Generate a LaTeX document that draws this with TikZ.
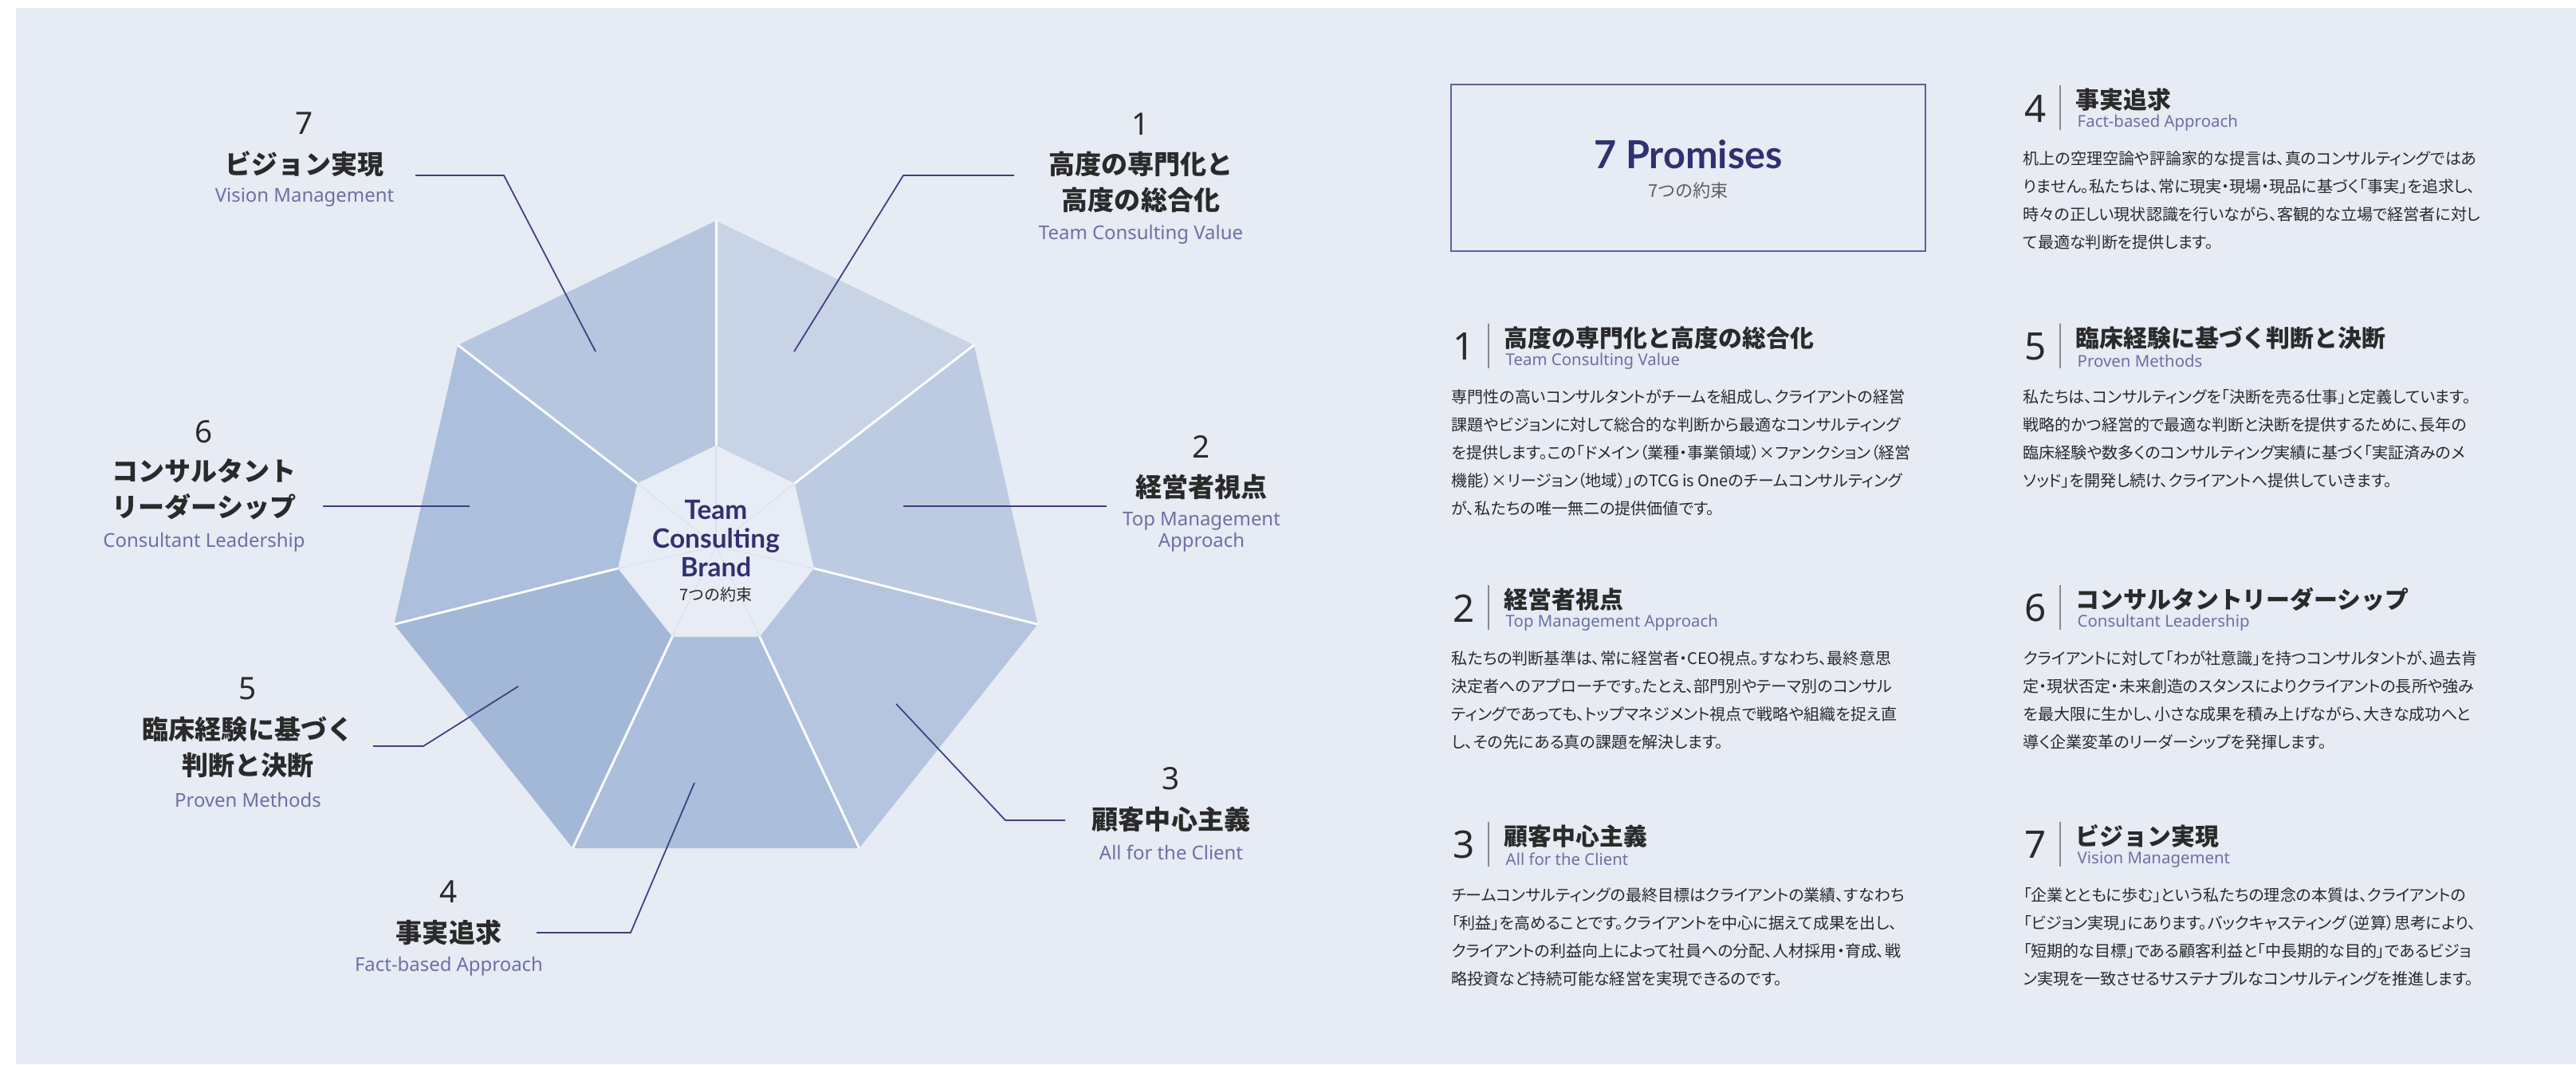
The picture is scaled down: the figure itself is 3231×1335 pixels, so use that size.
\documentclass[tikz,border=0pt]{standalone}
\usepackage{fontspec}
\setmainfont{Noto Sans}
\newfontfamily\latofont{Lato}
\newfontfamily\jpfont{Noto Sans CJK JP}
\newfontfamily\jpbody[RawFeature=+palt]{Noto Sans CJK JP}
\usepackage{xcolor}
\usepackage{tikz}
\usetikzlibrary{positioning}

\definecolor{bgc}{HTML}{E6EBF4}
\definecolor{hubc}{HTML}{E7ECF5}
\definecolor{navy}{HTML}{2E3270}
\definecolor{subc}{HTML}{6C70A5}
\definecolor{linec}{HTML}{3D4180}
\definecolor{txtc}{HTML}{2A2A2A}
\definecolor{sepc}{HTML}{8A8A8A}
\definecolor{boxc}{HTML}{5D6199}
\definecolor{seg1}{HTML}{C8D3E6}
\definecolor{seg2}{HTML}{BDCBE2}
\definecolor{seg3}{HTML}{B5C5DF}
\definecolor{seg4}{HTML}{ABBEDB}
\definecolor{seg5}{HTML}{A3B7D6}
\definecolor{seg6}{HTML}{ACBFDC}
\definecolor{seg7}{HTML}{B6C6DF}

\tikzset{
    tnode/.style = {align=center, inner sep=0pt, text centered},
    cnum/.style = {tnode, font=\fontsize{11}{11}\selectfont, text=txtc},
    ctitle/.style = {tnode, font=\jpfont\bfseries\fontsize{9.4}{12.8}\selectfont, text=txtc},
    csub/.style = {tnode, font=\fontsize{6.8}{7.7}\selectfont, text=subc},
    brand/.style = {tnode, font=\latofont\bfseries\fontsize{9.5}{10.24}\selectfont, text=navy},
    brand_sub/.style = {tnode, font=\jpfont\fontsize{5.7}{5.7}\selectfont, text=txtc},
    callout/.style = {draw=linec, line width=0.5pt},
    divider/.style = {draw=white!85!bgc, line width=0.85pt},
    spoke/.style = {draw=bgc!80!seg4, line width=0.3pt}
}
\tikzset{
    pbox/.style = {draw=boxc, line width=0.55pt, minimum width=5.95cm, minimum height=2.09cm, inner sep=0pt},
    pbox_title/.style = {tnode, font=\latofont\bfseries\fontsize{13.8}{13.8}\selectfont, text=navy},
    pbox_sub/.style = {tnode, font=\jpfont\fontsize{6.3}{6.3}\selectfont, text=txtc!75},
    pnum/.style = {tnode, font=\fontsize{13.5}{13.5}\selectfont, text=txtc},
    psep/.style = {draw=sepc, line width=0.5pt},
    ptitle/.style = {tnode, font=\jpfont\bfseries\fontsize{8.5}{8.5}\selectfont, text=txtc},
    psub/.style = {tnode, font=\fontsize{5.8}{5.8}\selectfont, text=subc},
    pbody/.style = {align=left, inner sep=0pt, font=\jpbody\fontsize{5.7}{9.96}\selectfont, text=txtc}
}

% one promise of the list: text x, title y, number, title, subtitle, body
\newcommand{\promiseitem}[6]{%
    \node[pnum] (pnum#3) at (#1-50,#2+11) {#3};
    \coordinate (psa#3) at (#1-19,#2-18);
    \coordinate (psb#3) at (#1-19,#2+38);
    \draw[psep] (psa#3) -- (psb#3);
    \node[ptitle, anchor=west] (ptitle#3) at (#1,#2) {#4};
    \node[psub, anchor=west] (psub#3) at (#1+2,#2+29) {#5};
    \node[pbody, anchor=north west] (pbody#3) at (#1-66,#2+64) {#6};
}

\begin{document}
\begin{tikzpicture}[x=0.01cm, y=-0.01cm]
    \useasboundingbox (0,0) rectangle (3231,1335);
    \fill[bgc] (20,10) rectangle (3231,1335);

    % heptagon corners
    \foreach \k in {0,...,6} {
        \coordinate (o\k) at ({898+414*cos(90-\k*360/7)}, {691-414*sin(90-\k*360/7)});
        \coordinate (i\k) at ({898+126*cos(90-\k*360/7)}, {685-126*sin(90-\k*360/7)});
    }
    \coordinate (hub) at (898,685);

    \foreach \k/\j/\c in {0/1/seg1, 1/2/seg2, 2/3/seg3, 3/4/seg4, 4/5/seg5, 5/6/seg6, 6/0/seg7}
        \fill[\c] (i\k) -- (o\k) -- (o\j) -- (i\j) -- cycle;
    \fill[hubc] (i0) -- (i1) -- (i2) -- (i3) -- (i4) -- (i5) -- (i6) -- cycle;
    \foreach \k in {0,...,6} {
        \draw[spoke] (hub) -- (i\k);
        \draw[divider] (i\k) -- (o\k);
    }

    \node[brand] (brand) at (898,676) {Team\\Consulting\\Brand};
    \node[brand_sub] (brandsub) at (898,746) {7つの約束};

    % labels round the heptagon
    \node[cnum] (cn1) at (1431,156) {1};
    \node[ctitle] (ct1) at (1431,228) {高度の専門化と\\高度の総合化};
    \node[csub] (cs1) at (1431,294) {Team Consulting Value};

    \node[cnum] (cn2) at (1507,560) {2};
    \node[ctitle] (ct2) at (1507,611) {経営者視点};
    \node[csub] (cs2) at (1507,667) {Top Management\\Approach};

    \node[cnum] (cn3) at (1469,977) {3};
    \node[ctitle] (ct3) at (1469,1028) {顧客中心主義};
    \node[csub] (cs3) at (1469,1069) {All for the Client};

    \node[cnum] (cn4) at (563,1119) {4};
    \node[ctitle] (ct4) at (563,1170) {事実追求};
    \node[csub] (cs4) at (563,1212) {Fact-based Approach};

    \node[cnum] (cn5) at (311,864) {5};
    \node[ctitle] (ct5) at (311,937) {臨床経験に基づく\\判断と決断};
    \node[csub] (cs5) at (311,1003) {Proven Methods};

    \node[cnum] (cn6) at (256,542) {6};
    \node[ctitle] (ct6) at (256,614) {コンサルタント\\リーダーシップ};
    \node[csub] (cs6) at (256,680) {Consultant Leadership};

    \node[cnum] (cn7) at (382,155) {7};
    \node[ctitle] (ct7) at (382,206) {ビジョン実現};
    \node[csub] (cs7) at (382,248) {Vision Management};

    % leader lines
    \coordinate (a1) at (996,441);  \coordinate (b1) at (1133,220); \coordinate (e1) at (1272,220);
    \coordinate (a2) at (1133,635); \coordinate (e2) at (1388,635);
    \coordinate (a3) at (1124,883); \coordinate (b3) at (1261,1029); \coordinate (e3) at (1336,1029);
    \coordinate (a4) at (871,982);  \coordinate (b4) at (791,1170); \coordinate (e4) at (673,1170);
    \coordinate (a5) at (650,861);  \coordinate (b5) at (531,936);  \coordinate (e5) at (468,936);
    \coordinate (a6) at (589,635);  \coordinate (e6) at (405,635);
    \coordinate (a7) at (747,441);  \coordinate (b7) at (632,220);  \coordinate (e7) at (521,220);
    \draw[callout] (a1) -- (b1) -- (e1);
    \draw[callout] (a2) -- (e2);
    \draw[callout] (a3) -- (b3) -- (e3);
    \draw[callout] (a4) -- (b4) -- (e4);
    \draw[callout] (a5) -- (b5) -- (e5);
    \draw[callout] (a6) -- (e6);
    \draw[callout] (a7) -- (b7) -- (e7);

    % 7 promises
    \node[pbox] (pbox) at (2117.5,210.5) {};
    \node[pbox_title] (pboxtitle) at (2117.5,194) {7 Promises};
    \node[pbox_sub] (pboxsub) at (2117.5,239) {7つの約束};

    \promiseitem{2603}{125}{4}{事実追求}{Fact-based Approach}{%
        机上の空理空論や評論家的な提言は、真のコンサルティングではあ\\
        りません。私たちは、常に現実・現場・現品に基づく「事実」を追求し、\\
        時々の正しい現状認識を行いながら、客観的な立場で経営者に対し\\
        て最適な判断を提供します。}
    \promiseitem{1886}{424}{1}{高度の専門化と高度の総合化}{Team Consulting Value}{%
        専門性の高いコンサルタントがチームを組成し、クライアントの経営\\
        課題やビジョンに対して総合的な判断から最適なコンサルティング\\
        を提供します。この「ドメイン（業種・事業領域）×ファンクション（経営\\
        機能）×リージョン（地域）」のTCG is Oneのチームコンサルティング\\
        が、私たちの唯一無二の提供価値です。}
    \promiseitem{2603}{424}{5}{臨床経験に基づく判断と決断}{Proven Methods}{%
        私たちは、コンサルティングを「決断を売る仕事」と定義しています。\\
        戦略的かつ経営的で最適な判断と決断を提供するために、長年の\\
        臨床経験や数多くのコンサルティング実績に基づく「実証済みのメ\\
        ソッド」を開発し続け、クライアントへ提供していきます。}
    \promiseitem{1886}{752}{2}{経営者視点}{Top Management Approach}{%
        私たちの判断基準は、常に経営者・CEO視点。すなわち、最終意思\\
        決定者へのアプローチです。たとえ、部門別やテーマ別のコンサル\\
        ティングであっても、トップマネジメント視点で戦略や組織を捉え直\\
        し、その先にある真の課題を解決します。}
    \promiseitem{2603}{752}{6}{コンサルタントリーダーシップ}{Consultant Leadership}{%
        クライアントに対して「わが社意識」を持つコンサルタントが、過去肯\\
        定・現状否定・未来創造のスタンスによりクライアントの長所や強み\\
        を最大限に生かし、小さな成果を積み上げながら、大きな成功へと\\
        導く企業変革のリーダーシップを発揮します。}
    \promiseitem{1886}{1049}{3}{顧客中心主義}{All for the Client}{%
        チームコンサルティングの最終目標はクライアントの業績、すなわち\\
        「利益」を高めることです。クライアントを中心に据えて成果を出し、\\
        クライアントの利益向上によって社員への分配、人材採用・育成、戦\\
        略投資など持続可能な経営を実現できるのです。}
    \promiseitem{2603}{1049}{7}{ビジョン実現}{Vision Management}{%
        「企業とともに歩む」という私たちの理念の本質は、クライアントの\\
        「ビジョン実現」にあります。バックキャスティング（逆算）思考により、\\
        「短期的な目標」である顧客利益と「中長期的な目的」であるビジョ\\
        ン実現を一致させるサステナブルなコンサルティングを推進します。}
\end{tikzpicture}
\end{document}
